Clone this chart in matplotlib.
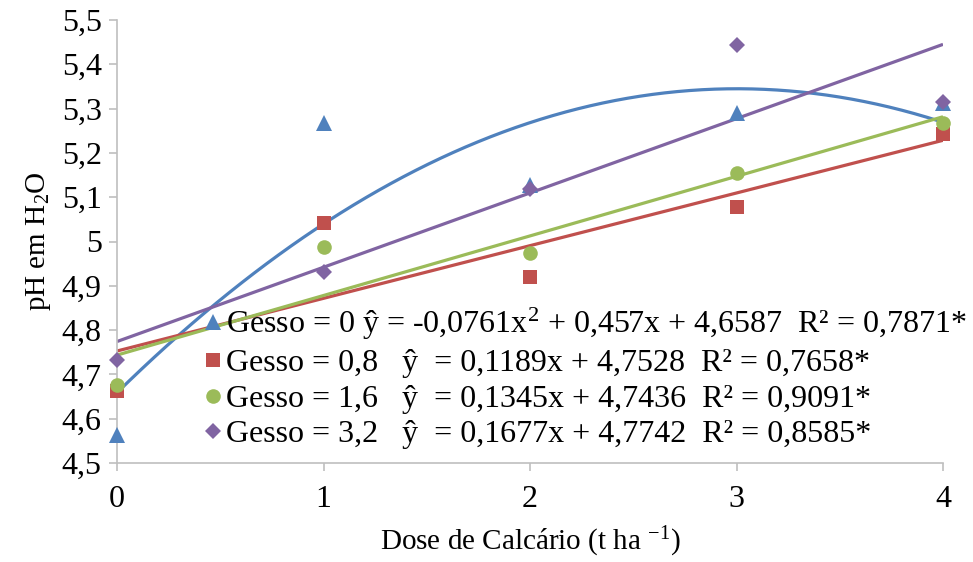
import numpy as np
import matplotlib
matplotlib.use("Agg")
import matplotlib.pyplot as plt
from matplotlib.lines import Line2D

plt.rcParams['font.family'] = ['Liberation Serif', 'DejaVu Serif']
plt.rcParams['mathtext.default'] = 'regular'

# Data
doses = [0, 1, 2, 3, 4]
gesso0 = [4.564, 5.267, 5.128, 5.290, 5.312]
gesso08 = [4.662, 5.042, 4.920, 5.077, 5.242]
gesso16 = [4.677, 4.988, 4.974, 5.155, 5.267]
gesso32 = [4.732, 4.932, 5.118, 5.444, 5.315]

# polynomial coefficients (highest power first)
coef0 = [-0.0761, 0.457, 4.6587]
coef08 = [0.1189, 4.7528]
coef16 = [0.1345, 4.7436]
coef32 = [0.1677, 4.7742]

labels = [
    "Gesso = 0 ŷ = -0,0761x$^2$ + 0,457x + 4,6587  R² = 0,7871*",
    "Gesso = 0,8   ŷ  = 0,1189x + 4,7528  R² = 0,7658*",
    "Gesso = 1,6   ŷ  = 0,1345x + 4,7436  R² = 0,9091*",
    "Gesso = 3,2   ŷ  = 0,1677x + 4,7742  R² = 0,8585*",
]
yticks = [4.5, 4.6, 4.7, 4.8, 4.9, 5.0, 5.1, 5.2, 5.3, 5.4, 5.5]
ytick_labels = ["4,5", "4,6", "4,7", "4,8", "4,9", "5", "5,1", "5,2", "5,3", "5,4", "5,5"]

colors = ['#4F81BD', '#C0504D', '#9BBB59', '#8064A2']
markers = ['^', 's', 'o', 'D']
msizes = [11, 10, 10.5, 8]

fig = plt.figure(figsize=(9.73, 5.62), dpi=100)
ax = fig.add_axes([117/973, 1-463/562, (943-117)/973, (463-20)/562])

series = [gesso0, gesso08, gesso16, gesso32]
coefs = [coef0, coef08, coef16, coef32]
xs = np.linspace(0, 4, 200)
for ys, c, col in zip(series, coefs, colors):
    ax.plot(xs, np.polyval(c, xs), color=col, lw=2.3, zorder=2, solid_capstyle='butt')
for ys, col, m, ms in zip(series, colors, markers, msizes):
    ax.plot(doses, ys, linestyle='none', marker=m, color=col, markersize=ms,
            markeredgewidth=0, zorder=3, clip_on=False)

ax.set_xlim(0, 4)
ax.set_ylim(4.5, 5.5)
ax.set_xticks(doses)
ax.set_xticklabels([str(d) for d in doses])
ax.set_yticks(yticks)
ax.set_yticklabels(ytick_labels)
for s in ['top', 'right']:
    ax.spines[s].set_visible(False)
for s in ['left', 'bottom']:
    ax.spines[s].set_color('#BFBFBF')
    ax.spines[s].set_linewidth(1.2)
ax.tick_params(axis='both', colors='#BFBFBF', labelcolor='black', labelsize=23,
               length=6, width=1.2, direction='out')
ax.tick_params(axis='x', pad=10)
ax.tick_params(axis='y', pad=5)
ax.set_ylabel("pH em H$_2$O", fontsize=21, labelpad=6)
ax.set_xlabel("Dose de Calcário (t ha $^{-1}$)", fontsize=21, labelpad=8)

handles = [Line2D([], [], linestyle='none', marker=m, color=col, markersize=ms, markeredgewidth=0)
           for col, m, ms in zip(colors, markers, msizes)]
leg = fig.legend(handles, labels, loc='upper left', bbox_to_anchor=(204/973, 1-306/562),
                 frameon=False, fontsize=23, handlelength=0.55, handletextpad=0.15,
                 labelspacing=0.2, borderpad=0, borderaxespad=0)

fig.savefig("out.png", dpi=100)
